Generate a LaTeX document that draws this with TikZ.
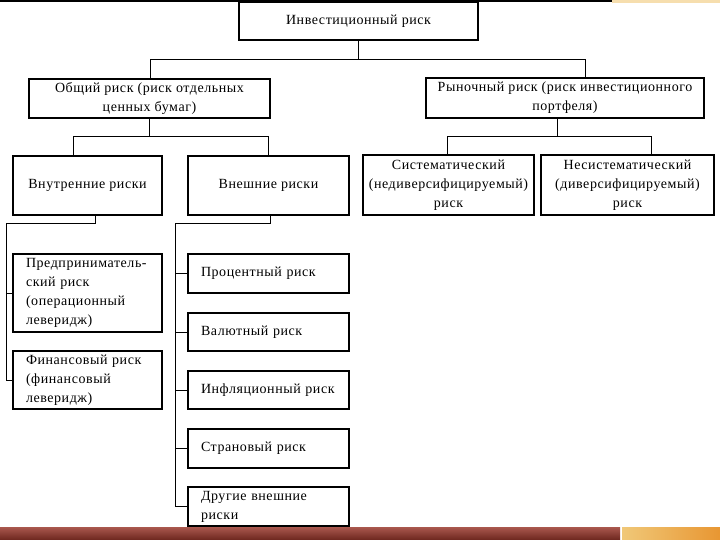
\documentclass[tikz,border=0pt]{standalone}
\usepackage{fontspec}
\newfontfamily\rusfont[LetterSpace=4]{Liberation Serif}
\definecolor{bartop}{RGB}{170,88,78}
\definecolor{barbot}{RGB}{108,38,30}
\definecolor{decoL}{RGB}{240,200,120}
\definecolor{decoR}{RGB}{232,150,50}

\begin{document}
\begin{tikzpicture}[x=1pt,y=-1pt,
  box/.style={draw, line width=1.3pt, align=center, inner sep=2pt,
    font=\rusfont\fontsize{14}{19}\selectfont},
  lbox/.style={box, align=left, text width=#1, inner xsep=13pt},
  link/.style={line width=1pt}]
  \useasboundingbox (0,0) rectangle (720,540);
  % slide decoration
  \fill[black] (0,0) rectangle (612,2.5);
  \fill[decoL!60] (612,0) rectangle (720,3);
  \shade[top color=bartop, bottom color=barbot] (0,527) rectangle (620,540);
  \shade[left color=decoL, right color=decoR] (622,527) rectangle (720,540);

  % top level
  \node[box, minimum width=239pt, minimum height=38pt] (inv) at (358.5,21) {Инвестиционный риск};
  \node[box, minimum width=241pt, minimum height=39pt] (gen) at (149.5,98.5) {Общий риск (риск отдельных\\ценных бумаг)};
  \node[box, minimum width=278pt, minimum height=40pt] (mkt) at (565,98) {Рыночный риск (риск инвестиционного\\портфеля)};

  % second level
  \node[box, minimum width=149pt, minimum height=59pt] (intr) at (87.5,185.5) {Внутренние риски};
  \node[box, minimum width=161pt, minimum height=59pt] (extr) at (268.5,185.5) {Внешние риски};
  \node[box, minimum width=171pt, minimum height=60pt] (sys) at (448.5,185) {Систематический\\(недиверсифицируемый)\\риск};
  \node[box, minimum width=173pt, minimum height=60pt] (unsys) at (627.5,185) {Несистематический\\(диверсифицируемый)\\риск};

  % internal risks
  \node[lbox=123pt, minimum height=78pt] (ent) at (87.5,293) {Предприниматель-\\ский риск\\(операционный\\леверидж)};
  \node[lbox=123pt, minimum height=58pt] (fin) at (87.5,380) {Финансовый риск\\(финансовый\\леверидж)};

  % external risks
  \node[lbox=135pt, minimum height=39pt] (pct) at (268.5,273.5) {Процентный риск};
  \node[lbox=135pt, minimum height=38pt] (cur) at (268.5,332) {Валютный риск};
  \node[lbox=135pt, minimum height=38pt] (infl) at (268.5,390) {Инфляционный риск};
  \node[lbox=135pt, minimum height=39pt] (ctry) at (268.5,448.5) {Страновый риск};
  \node[lbox=135pt, minimum height=39pt] (oth) at (268.5,506.5) {Другие внешние\\риски};

  % connectors
  \coordinate (busL) at (150,60);
  \coordinate (busR) at (585,60);
  \draw[link] (inv.south) -- (inv.south |- busL);
  \draw[link] (busL |- gen.north) -- (busL) -- (busR) -- (busR |- mkt.north);

  \coordinate (genL) at (73,137);
  \coordinate (genR) at (268,137);
  \draw[link] (gen.south) -- (gen.south |- genL);
  \draw[link] (genL |- intr.north) -- (genL) -- (genR) -- (genR |- extr.north);

  \coordinate (mktC) at (557,137);
  \coordinate (mktL) at (447,137);
  \coordinate (mktR) at (651,137);
  \draw[link] (mktC |- mkt.south) -- (mktC);
  \draw[link] (mktL |- sys.north) -- (mktL) -- (mktR) -- (mktR |- unsys.north);

  \coordinate (inL) at (6,224);
  \coordinate (inR) at (95,224);
  \draw[link] (inR |- intr.south) -- (inR) -- (inL) -- (inL |- fin.west);
  \foreach \n in {ent,fin}
    \draw[link] (\n.west) -- (\n.west -| inL);

  \coordinate (exL) at (175,224);
  \coordinate (exR) at (270,224);
  \draw[link] (exR |- extr.south) -- (exR) -- (exL) -- (exL |- oth.west);
  \foreach \n in {pct,cur,infl,ctry,oth}
    \draw[link] (\n.west) -- (\n.west -| exL);
\end{tikzpicture}
\end{document}
